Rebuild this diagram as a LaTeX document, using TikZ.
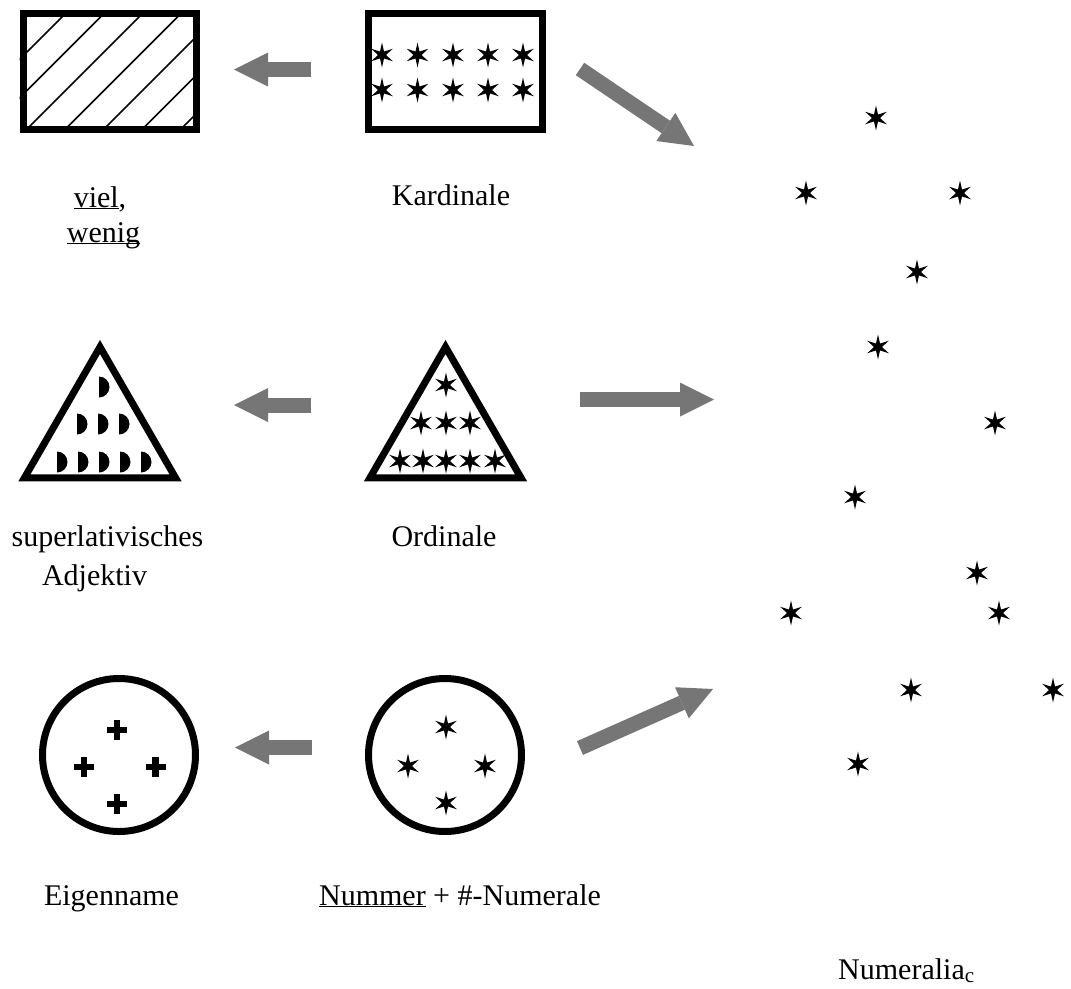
\documentclass[tikz,border=0pt]{standalone}
\usepackage{fontspec}
\setmainfont{Liberation Serif}
\usepackage{tikz}
\usetikzlibrary{arrows.meta,shapes.geometric}
\definecolor{pfeilgrau}{RGB}{118,118,118}
\newcommand{\ustrich}[1]{\underline{\smash{#1}}}

\tikzset{
  rahmen/.style={draw,line width=7pt,inner sep=0pt},
  pfeil/.style={draw=pfeilgrau,line width=15pt,-{Triangle[width=34pt,length=34pt,line width=0pt]}},
  etikett/.style={anchor=base,inner sep=0pt,font=\fontsize{30}{35}\selectfont},
  stern/.pic={\fill (90:12.5) \foreach \a in {0,60,...,300} {-- (\a+120:4) -- (\a+150:12.5)} -- cycle;},
  halbmond/.pic={\fill (0,-10.5) arc[start angle=-90,end angle=90,radius=10.5] -- cycle;},
  kreuz/.pic={\fill (-10,-3.25) rectangle (10,3.25); \fill (-3.25,-10) rectangle (3.25,10);}
}

\begin{document}
\begin{tikzpicture}[x=1pt,y=-1pt]
	\useasboundingbox (0,0) rectangle (1071,988);
	% obere Reihe
	\node[rahmen,minimum width=173pt,minimum height=115.5pt] (vielbox) at (109.5,71.3) {};
	\node[rahmen,minimum width=174pt,minimum height=115.5pt] (kardbox) at (455.5,71.3) {};
	\begin{scope}
		\clip (vielbox.south west) rectangle (vielbox.north east);
		\foreach \c in {-50,-11.5,...,190}
		{\draw[line width=1.5pt] (\c,129) -- ++(116,-116);}
	\end{scope}
	\foreach \x in {382,417.5,453,488,523}
		\foreach \y in {55,90}
		{\pic at (\x,\y) {stern};}
	% mittlere Reihe
	\node[rahmen,regular polygon,regular polygon sides=3,minimum size=174.7pt] (superdreieck) at (100,434.3) {};
	\node[rahmen,regular polygon,regular polygon sides=3,minimum size=174.7pt] (orddreieck) at (445.5,434.3) {};
	\foreach \x/\y in {99/387, 77/424, 98/424, 119/424, 57/462, 78/462, 99/462, 120/462, 141/462}
		{\pic at (\x,\y) {halbmond};}
	\foreach \x/\y in {446/385, 421/423, 446/423, 470/423, 400/461, 423/461, 446/461, 470/461, 495/461}
		{\pic at (\x,\y) {stern};}
	% untere Reihe
	\node[rahmen,circle,minimum size=153pt] (eigenkreis) at (119,755) {};
	\node[rahmen,circle,minimum size=153pt] (nummerkreis) at (445,755) {};
	\foreach \x/\y in {117/730, 84/767, 155.5/767, 117/804}
		{\pic at (\x,\y) {kreuz};}
	\foreach \x/\y in {446/727, 408/766, 485/766, 446/803}
		{\pic at (\x,\y) {stern};}
	% Numeralia
	\foreach \x/\y in {876/118, 806/193, 960/193, 917/272, 878/347, 995/423, 855/497, 977/573, 791/613, 999/613, 911/690, 1053/690, 858/764}
		{\pic at (\x,\y) {stern};}
	% Pfeile
	\coordinate (kard-von) at (311,69.5);
	\coordinate (viel-an) at (234,69.5);
	\coordinate (kard-weg) at (580,69);
	\coordinate (num-an1) at (694,146);
	\coordinate (ord-von) at (311,405);
	\coordinate (super-an) at (234,405);
	\coordinate (ord-weg) at (580,399.5);
	\coordinate (num-an2) at (714,399.5);
	\coordinate (nummer-von) at (312,747.5);
	\coordinate (eigen-an) at (235,747.5);
	\coordinate (nummer-weg) at (580,748);
	\coordinate (num-an3) at (713,689);
	\draw[pfeil] (kard-von) -- (viel-an);
	\draw[pfeil] (kard-weg) -- (num-an1);
	\draw[pfeil] (ord-von) -- (super-an);
	\draw[pfeil] (ord-weg) -- (num-an2);
	\draw[pfeil] (nummer-von) -- (eigen-an);
	\draw[pfeil] (nummer-weg) -- (num-an3);
	% Beschriftungen
	\node[etikett] (vieltext) at (100,207) {\ustrich{viel},};
	\node[etikett] (wenigtext) at (103.5,242) {\ustrich{wenig}};
	\node[etikett] (kardtext) at (451,205) {Kardinale};
	\node[etikett] (supertext) at (107.5,546) {superlativisches};
	\node[etikett] (adjtext) at (94.5,585) {Adjektiv};
	\node[etikett] (ordtext) at (444,546) {Ordinale};
	\node[etikett] (eigentext) at (111.5,905) {Eigenname};
	\node[etikett] (nummertext) at (460,905) {\ustrich{Nummer} + \#-Numerale};
	\node[etikett,anchor=base west] (numtext) at (838,979) {Numeralia\textsubscript{c}};
\end{tikzpicture}
\end{document}
